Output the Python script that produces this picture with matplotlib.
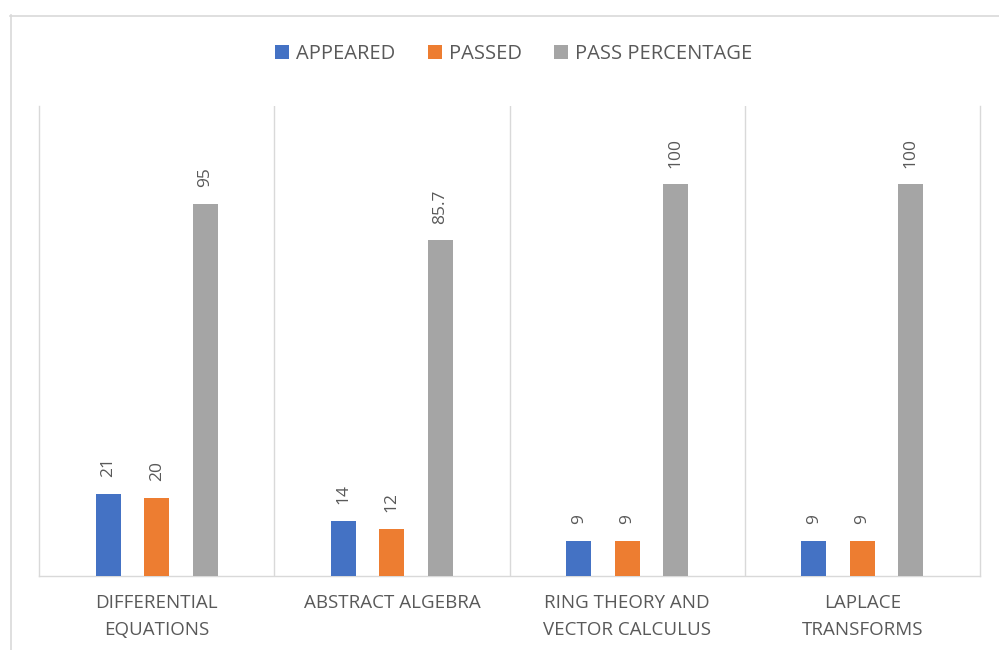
import numpy as np
import matplotlib
matplotlib.use("Agg")
import matplotlib.pyplot as plt
from matplotlib.lines import Line2D

# data
subjects = ["DIFFERENTIAL\nEQUATIONS", "ABSTRACT ALGEBRA",
            "RING THEORY AND\nVECTOR CALCULUS", "LAPLACE\nTRANSFORMS"]
appeared = [21, 14, 9, 9]
passed = [20, 12, 9, 9]
pass_pct = [95, 85.7, 100, 100]

series_names = ["APPEARED", "PASSED", "PASS PERCENTAGE"]
colors = ["#4472C4", "#ED7D31", "#A5A5A5"]

plt.rcParams['font.family'] = ['Open Sans', 'DejaVu Sans']
txt_col = "#595959"
line_col = "#D9D9D9"

fig = plt.figure(figsize=(9.99, 6.5), dpi=100)
ax = fig.add_axes([39/999, 1 - 576/650, (980 - 39)/999, (576 - 106)/650])

x = np.arange(len(subjects))
w = 0.106
step = 0.206
for i, (vals, name, c) in enumerate(zip([appeared, passed, pass_pct], series_names, colors)):
    bars = ax.bar(x + (i - 1) * step, vals, width=w, color=c, label=name, zorder=3)
    ax.bar_label(bars, fmt='%g', rotation=90, padding=12, fontsize=12.5, color=txt_col)

ax.set_xlim(-0.5, len(subjects) - 0.5)
ax.set_ylim(0, 120)
ax.set_yticks([])
ax.set_xticks(x)
ax.set_xticklabels(subjects, fontsize=13.5, color=txt_col, linespacing=1.65)
ax.tick_params(axis='x', length=0, pad=13)

# category separators
for b in np.arange(0.5, len(subjects) - 0.5, 1):
    ax.axvline(b, color=line_col, lw=1, zorder=1)
ax.spines['top'].set_visible(False)
for s in ['left', 'right', 'bottom']:
    ax.spines[s].set_color(line_col)
    ax.spines[s].set_linewidth(1)

fig.legend(loc='center', bbox_to_anchor=(514/999, 1 - 54/650), ncol=3, frameon=False,
           fontsize=14.5, handlelength=0.7, handleheight=0.7, handletextpad=0.35,
           columnspacing=1.6, labelcolor=txt_col)

# outer chart frame (top and left edges visible)
fig.add_artist(Line2D([10.5/999, 10.5/999], [0, 1 - 15/650], transform=fig.transFigure,
                      color=line_col, lw=1.2))
fig.add_artist(Line2D([10/999, 1], [1 - 15.5/650, 1 - 15.5/650], transform=fig.transFigure,
                      color=line_col, lw=1.2))

fig.savefig("out.png", dpi=100)
